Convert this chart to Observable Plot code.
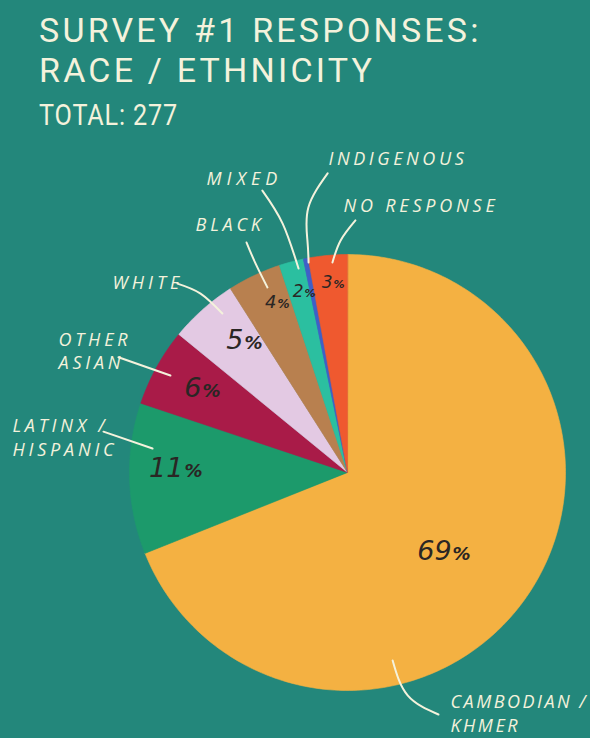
<!DOCTYPE html>
<html>
<head>
<meta charset="utf-8">
<script src="https://cdn.jsdelivr.net/npm/d3@7"></script>
<script src="https://cdn.jsdelivr.net/npm/@observablehq/plot@0.6"></script>
<style>
  html, body { margin: 0; padding: 0; background: #23877b; }
  #wrap { width: 590px; height: 738px; position: relative; overflow: hidden; background: #23877b; }
  #head { position: relative; height: 140px; color: #f4f2dc; font-family: Roboto, "Open Sans", sans-serif; }
  .t { position: absolute; left: 39px; white-space: nowrap; }
  .t1 { top: 10px; font-size: 34px; line-height: 40px; letter-spacing: 3.2px; }
  .t3 { top: 100px; font-size: 30px; line-height: 30px; letter-spacing: 1px; transform: scaleX(0.84); transform-origin: 0 50%; }
  #chart svg { display: block; }
</style>
</head>
<body>
<div id="wrap">
  <div id="head">
    <div class="t t1" id="title"></div>
    <div class="t t3" id="total"></div>
  </div>
  <div id="chart"></div>
</div>
<script>
// ---------- data ----------
const titleLines = ["SURVEY #1 RESPONSES:", "RACE / ETHNICITY"];
const categories = ["Cambodian / Khmer", "Latinx / Hispanic", "Other Asian", "White", "Black", "Mixed", "Indigenous", "No Response"];
const labelTexts = ["CAMBODIAN /\nKHMER", "LATINX /\nHISPANIC", "OTHER\nASIAN", "WHITE", "BLACK", "MIXED", "INDIGENOUS", "NO RESPONSE"];
const counts = [191, 31, 16, 14, 11, 5, 1, 8];
const showPercent = [true, true, true, true, true, true, false, true];

// ---------- styles / layout ----------
const sliceColors = ["#f4b142", "#1c9a6b", "#a91b48", "#e3c9e3", "#b8804f", "#2bbfa0", "#3f5fc8", "#ef592f"];
const bg = "#23877b";
const cream = "#f4f2dc";
const ink = "#2a2624";
// polar layout: [angle in degrees clockwise from 12 o'clock, radius in pie radii]
const labelPos = [[156.77, 1.198], [276.2, 1.546], [293.0, 1.440], [309.1, 1.389], [328.6, 1.338], [334.5, 1.502], [356.55, 1.450], [359.15, 1.232]];
const labelSpacing = [2.5, 3.8, 3.8, 4.0, 3.8, 5.0, 3.6, 3.8];
const pctPos = [[130.2, 0.625], [268.3, 0.753], [297.2, 0.753], [320.0, 0.742], [336.6, 0.820], [345.9, 0.828], null, [355.4, 0.851]];
const pctDigitSize = [27, 27, 27, 27, 18, 17, 0, 17];
const pctSignSize = [18, 18, 18, 18, 12, 11, 0, 11];
const leaderPos = [
  [[166.5, 0.887], [164.9, 1.059], [159.4, 1.186]],
  [[279.5, 1.135], [277.0, 0.901]],
  [[296.7, 1.176], [298.7, 0.926]],
  [[318.0, 1.166], [320.6, 1.062], [321.8, 0.928]],
  [[336.3, 1.152], [336.25, 1.048], [336.6, 0.925]],
  [[343.2, 1.351], [345.4, 1.180], [346.5, 0.962]],
  [[356.2, 1.375], [351.6, 1.229], [350.2, 1.080], [349.5, 0.980]],
  [[1.8, 1.157], [358.3, 1.065], [355.9, 0.966]]
];
const W = 590, H = 598, R = 218, CX = 347, CY = 332;

// ---------- derived ----------
const total = d3.sum(counts);
const titleEl = document.getElementById("title");
titleLines.forEach((t, i) => {
  if (i) titleEl.appendChild(document.createElement("br"));
  titleEl.appendChild(document.createTextNode(t));
});
document.getElementById("total").textContent = "TOTAL: " + total;

const polar = ([deg, r]) => {
  const a = deg * Math.PI / 180;
  return {x: r * Math.sin(a), y: r * Math.cos(a)};
};

const arcs = d3.pie().sort(null).startAngle(0).endAngle(2 * Math.PI)(counts);
const slicePts = [];
arcs.forEach((a, i) => {
  const name = categories[i];
  slicePts.push({name, x: 0, y: 0});
  const span = a.endAngle - a.startAngle;
  const n = Math.max(4, Math.ceil(span / (Math.PI / 180)));
  for (let k = 0; k <= n; ++k) {
    const t = a.startAngle + span * k / n;
    slicePts.push({name, x: Math.sin(t), y: Math.cos(t)});
  }
});

const leaderPts = [];
leaderPos.forEach((pts, i) => pts.forEach(p => {
  const q = polar(p);
  leaderPts.push({name: categories[i], x: q.x, y: q.y});
}));

const labelRows = categories.map((name, i) => {
  const q = polar(labelPos[i]);
  return {name, text: labelTexts[i], x: q.x, y: q.y};
});

const pctRows = [];
categories.forEach((name, i) => {
  if (!showPercent[i]) return;
  const q = polar(pctPos[i]);
  pctRows.push({
    name,
    num: String(Math.round(counts[i] / total * 100)),
    dsize: pctDigitSize[i],
    ssize: pctSignSize[i],
    x: q.x, y: q.y
  });
});

const chart = Plot.plot({
  width: W,
  height: H,
  margin: 0,
  style: {background: bg, overflow: "visible"},
  x: {domain: [-CX / R, (W - CX) / R], axis: null},
  y: {domain: [-(H - CY) / R, CY / R], axis: null},
  color: {type: "ordinal", domain: categories, range: sliceColors},
  marks: [
    Plot.line(slicePts, {x: "x", y: "y", z: "name", fill: "name", stroke: "name", strokeWidth: 0.6, curve: "linear-closed"}),
    Plot.line(leaderPts, {x: "x", y: "y", z: "name", stroke: cream, strokeWidth: 2, strokeLinecap: "round", curve: "natural"}),
    Plot.text(labelRows, {x: "x", y: "y", text: "text", textAnchor: "start", lineAnchor: "middle", lineHeight: 1.33, fill: cream, fontSize: 18, fontStyle: "italic", fontFamily: "Open Sans"}),
    Plot.text(pctRows, {x: "x", y: "y", text: "num", textAnchor: "end", lineAnchor: "bottom", fill: ink, fontSize: d => d.dsize, fontStyle: "italic", fontFamily: "DejaVu Sans"}),
    Plot.text(pctRows, {x: "x", y: "y", text: () => "%", textAnchor: "start", lineAnchor: "bottom", dx: 1, fill: ink, fontSize: d => d.ssize, fontStyle: "italic", fontWeight: "bold", fontFamily: "DejaVu Sans"})
  ]
});
// letter spacing for the hand-lettered category labels
chart.querySelectorAll("g").forEach(g => {
  const texts = Array.from(g.querySelectorAll(":scope > text"));
  if (texts.length === labelTexts.length && texts[6] && texts[6].textContent === labelTexts[6]) {
    texts.forEach((t, i) => t.setAttribute("letter-spacing", labelSpacing[i] + "px"));
  }
});
document.getElementById("chart").appendChild(chart);
</script>
</body>
</html>
